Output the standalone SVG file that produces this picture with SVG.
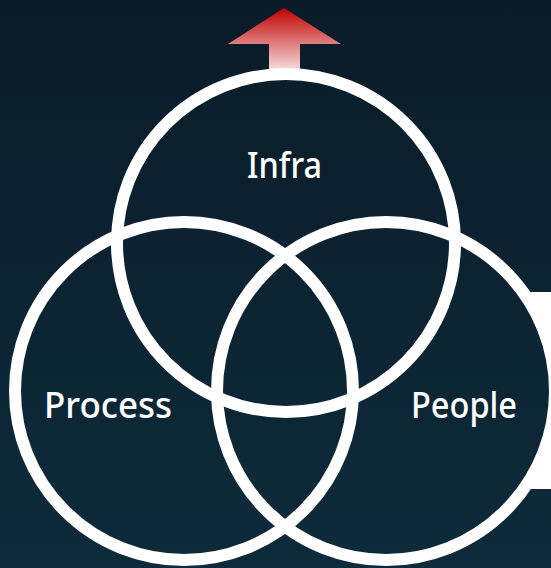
<svg xmlns="http://www.w3.org/2000/svg" width="551" height="568" viewBox="0 0 551 568">
  <defs>
    <linearGradient id="bg" x1="0" y1="0" x2="0" y2="568" gradientUnits="userSpaceOnUse">
      <stop offset="0" stop-color="#0a1b28"/>
      <stop offset="1" stop-color="#0e2b3b"/>
    </linearGradient>
    <linearGradient id="arrowGrad" x1="0" y1="8" x2="0" y2="80" gradientUnits="userSpaceOnUse">
      <stop offset="0" stop-color="#c00000"/>
      <stop offset="1" stop-color="#ffffff"/>
    </linearGradient>
    <style>
      .ring { fill: none; stroke: #ffffff; stroke-width: 12; }
      .fill { fill: url(#bg); stroke: none; }
      .label { font-family: "Noto Sans", "Open Sans", sans-serif; font-size: 37px; font-weight: 500; fill: #ffffff; }
    </style>
  </defs>
  <rect x="0" y="0" width="551" height="568" fill="url(#bg)"/>
  <rect x="500" y="292" width="60" height="197" fill="#ffffff"/>
  <polygon points="284,8 341,44 300,44 300,84 269,84 269,44 228,44" fill="url(#arrowGrad)"/>
  <g id="fills">
    <circle class="fill" cx="286" cy="243" r="169"/>
    <circle class="fill" cx="184" cy="391" r="169"/>
    <circle class="fill" cx="386" cy="391" r="169"/>
  </g>
  <g id="infra">
    <circle class="ring" cx="286" cy="243" r="169"/>
    <text class="label" x="247" y="178" textLength="75" lengthAdjust="spacingAndGlyphs">Infra</text>
  </g>
  <g id="process">
    <circle class="ring" cx="184" cy="391" r="169"/>
    <text class="label" x="44" y="418" textLength="128" lengthAdjust="spacingAndGlyphs">Process</text>
  </g>
  <g id="people">
    <circle class="ring" cx="386" cy="391" r="169"/>
    <text class="label" x="411" y="418" textLength="106" lengthAdjust="spacingAndGlyphs">People</text>
  </g>
</svg>
